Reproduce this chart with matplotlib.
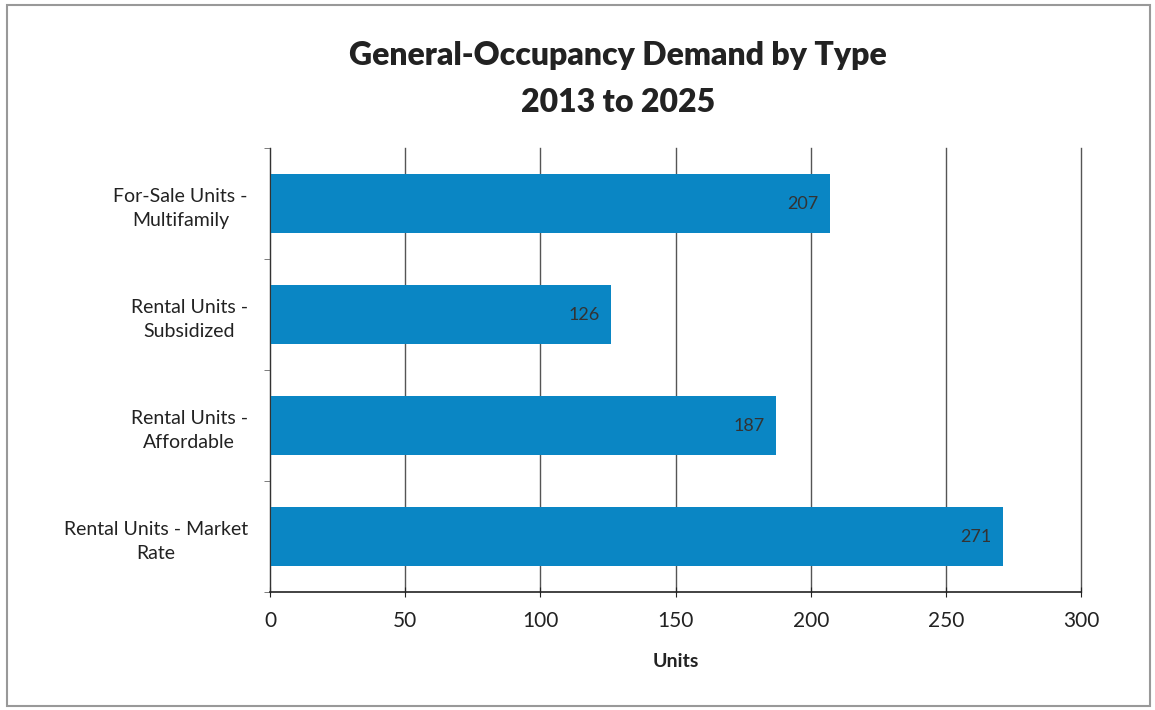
import matplotlib
matplotlib.use("Agg")
import matplotlib.pyplot as plt
from matplotlib.patches import Rectangle

categories = ["For-Sale Units -\nMultifamily", "Rental Units -\nSubsidized",
              "Rental Units -\nAffordable", "Rental Units - Market\nRate"]
values = [207, 126, 187, 271]
xticks = [0, 50, 100, 150, 200, 250, 300]

plt.rcParams['font.family'] = ['Lato', 'DejaVu Sans']

fig = plt.figure(figsize=(11.55, 7.10), dpi=100)
ax = fig.add_axes([0.2338, 0.1662, 0.936 - 0.2338, 0.7915 - 0.1662])

ypos = list(range(len(categories)))
bars = ax.barh(ypos, values, height=0.54, color="#0a86c4")
ax.set_ylim(len(categories) - 0.5, -0.5)
ax.set_xlim(0, 300)
ax.set_xticks(xticks)
ax.set_xticklabels([str(t) for t in xticks], fontsize=15, color="#222222")
ax.set_yticks(ypos)
ax.set_yticklabels(categories, fontsize=14, color="#222222", linespacing=1.5)
for lab in ax.get_yticklabels():
    lab.set_horizontalalignment('right')
    lab.set_multialignment('center')
ax.set_yticks([i - 0.5 for i in range(len(categories) + 1)], minor=True)
ax.tick_params(axis='y', which='major', length=0, pad=16)
ax.tick_params(axis='y', which='minor', length=4, color="#666666")
ax.tick_params(axis='x', which='major', length=7, direction='inout', pad=10, color="#222222")

ax.grid(axis='x', color="#555555", linewidth=1.0)
for gl in ax.get_xgridlines():
    gl.set_clip_on(False)
ax.set_axisbelow(True)
for s in ['top', 'right']:
    ax.spines[s].set_visible(False)
ax.spines['left'].set_color("#333333")
ax.spines['bottom'].set_color("#222222")
ax.spines['bottom'].set_linewidth(1.2)

for b, v in zip(bars, values):
    ax.text(v - 4, b.get_y() + b.get_height() / 2, str(v), ha='right', va='center',
            fontsize=13, color="#333333")

ax.set_xlabel("Units", fontsize=14, fontweight='bold', labelpad=16, color="#222222")

fig.text(0.535, 0.922, "General-Occupancy Demand by Type", ha='center', va='center',
         fontsize=23, fontweight='heavy', color="#222222")
fig.text(0.535, 0.855, "2013 to 2025", ha='center', va='center',
         fontsize=23, fontweight='heavy', color="#222222")

fig.patches.append(Rectangle((0.006, 0.005), 0.99, 0.988, transform=fig.transFigure,
                             fill=False, edgecolor="#999999", linewidth=1.5))

fig.savefig("out.png", dpi=100)
